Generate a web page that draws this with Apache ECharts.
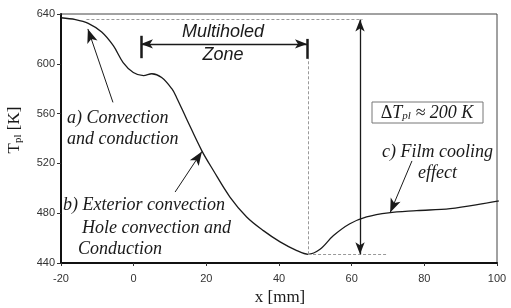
<!DOCTYPE html>
<html>
<head>
<meta charset="utf-8">
<script src="https://cdn.jsdelivr.net/npm/echarts@6/dist/echarts.min.js"></script>
<style>
  html, body { margin: 0; padding: 0; background: #fff; }
  #chart { width: 511px; height: 308px; }
</style>
</head>
<body>
<div id="chart"></div>
<script>
// plate temperature along x
const xMm = [-20, -16, -12.5, -8.8, -5.6, -2.9, -0.1, 2.7, 5, 7.7, 10.5, 11.8, 14.6, 18.7, 21.9, 26.5, 31.1, 35.7, 40.3, 44.9, 48, 51.3, 55, 59.5, 64.1, 70.1, 77.9, 87.1, 96.2, 103.9];
const tPl = [637, 635.5, 632.5, 625.5, 614.5, 601, 593, 590.5, 592, 589, 580, 573, 555.5, 530.5, 514.5, 493, 477, 466, 457, 450, 447, 451, 462, 471.5, 477, 480.3, 482, 483.7, 487.7, 491.7];

const xTicks = [-20, 0, 20, 40, 60, 80, 100];
const yTicks = [440, 480, 520, 560, 600, 640];

// guide lines and arrows, in data units
const dashedGuides = [
  [[-13, 635.5], [63, 635.5]],
  [[48, 447], [70, 447]],
  [[48, 447], [48, 604]]
];
const deltaArrow = [[62.3, 635.5], [62.3, 447]];
const zoneArrow = [[2, 616], [47.7, 616]];
const zoneBars = [
  [[2, 622.5], [2, 604.5]],
  [[47.7, 620], [47.7, 604]]
];
const pointerArrows = [
  [[-5.7, 569], [-12.6, 628]],
  [[11.4, 497], [18.8, 529.6]],
  [[76.6, 522], [70.6, 480.5]]
];

const serif = '"Liberation Serif", "DejaVu Serif", serif';
const sans = '"Liberation Sans", Arial, sans-serif';
const ink = '#1a1a1a';

const chart = echarts.init(document.getElementById('chart'));

function seg(p, q, startSym, endSym, size, style) {
  return [
    { coord: p, symbol: startSym, symbolSize: size },
    { coord: q, symbol: endSym, symbolSize: size, lineStyle: style }
  ];
}

const markData = [];
dashedGuides.forEach(d => markData.push(seg(d[0], d[1], 'none', 'none', 0, { color: '#999', width: 1, type: [3, 2] })));
markData.push(seg(deltaArrow[0], deltaArrow[1], 'arrow', 'arrow', [7, 12], { color: ink, width: 1.3, type: 'solid' }));
markData.push(seg(zoneArrow[0], zoneArrow[1], 'arrow', 'arrow', [7, 12], { color: ink, width: 1.3, type: 'solid' }));
zoneBars.forEach(d => markData.push(seg(d[0], d[1], 'none', 'none', 0, { color: ink, width: 2.5, type: 'solid' })));
pointerArrows.forEach(d => markData.push(seg(d[0], d[1], 'none', 'arrow', [8, 14], { color: ink, width: 1, type: 'solid' })));

function txt(text, x, y, font, align) {
  return {
    type: 'text',
    style: {
      text: text, x: x, y: y, font: font, fill: ink,
      textAlign: align || 'left', textVerticalAlign: 'middle'
    }
  };
}

const italicSerif = 'italic 18px ' + serif;
const italicSans = 'italic 18px ' + sans;

chart.setOption({
  animation: false,
  grid: {
    left: 61, right: 14, top: 14, bottom: 45,
    show: true, borderColor: '#444', borderWidth: 1
  },
  xAxis: {
    type: 'value',
    min: -20, max: 100, interval: 20,
    axisLine: { onZero: false, lineStyle: { color: '#111', width: 2 } },
    axisTick: { show: true, length: 3, lineStyle: { color: '#333' } },
    axisLabel: {
      margin: 10, color: '#333', fontSize: 11, fontFamily: sans,
      formatter: v => (xTicks.indexOf(v) >= 0 ? String(v) : '')
    },
    splitLine: { show: false }
  },
  yAxis: {
    type: 'value',
    min: 440, max: 640, interval: 40,
    axisLine: { show: true, onZero: false, lineStyle: { color: '#111', width: 2 } },
    axisTick: { show: true, length: 4, lineStyle: { color: '#333' } },
    axisLabel: {
      margin: 6, color: '#333', fontSize: 11, fontFamily: sans,
      formatter: v => (yTicks.indexOf(v) >= 0 ? String(v) : '')
    },
    splitLine: { show: false }
  },
  series: [{
    type: 'line',
    data: xMm.map((x, i) => [x, tPl[i]]),
    smooth: 0.35,
    showSymbol: false,
    clip: false,
    lineStyle: { color: ink, width: 1.3 },
    markLine: {
      silent: true,
      animation: false,
      label: { show: false },
      emphasis: { disabled: true },
      data: markData
    }
  }],
  graphic: [
    txt('Multiholed', 223, 32, italicSans, 'center'),
    txt('Zone', 223, 55, italicSans, 'center'),
    txt('a) Convection', 67, 118, italicSerif),
    txt('and conduction', 67, 139, italicSerif),
    txt('b) Exterior convection', 63, 205, italicSerif),
    txt('Hole convection and', 82, 228, italicSerif),
    txt('Conduction', 78, 249, italicSerif),
    txt('c) Film cooling', 382, 152, italicSerif),
    txt('effect', 418, 173, italicSerif),
    {
      type: 'rect',
      shape: { x: 372, y: 102, width: 111, height: 21 },
      style: { fill: '#fff', stroke: '#777', lineWidth: 1 }
    },
    {
      type: 'text',
      style: {
        text: '{d|Δ}{t|T}{s|pl}{t| ≈ 200 K}',
        x: 427, y: 113, textAlign: 'center', textVerticalAlign: 'middle',
        fill: ink,
        rich: {
          d: { fontFamily: serif, fontSize: 18, fill: ink },
          t: { fontFamily: serif, fontStyle: 'italic', fontSize: 18, fill: ink },
          s: { fontFamily: serif, fontStyle: 'italic', fontSize: 11, fill: ink, verticalAlign: 'bottom', padding: [6, 0, 0, 0] }
        }
      }
    },
    {
      type: 'text',
      x: 15, y: 130, rotation: Math.PI / 2,
      style: {
        text: '{t|T}{s|pl}{t| [K]}',
        x: 0, y: 0, textAlign: 'center', textVerticalAlign: 'middle',
        fill: ink,
        rich: {
          t: { fontFamily: serif, fontSize: 17, fill: ink },
          s: { fontFamily: serif, fontSize: 11, fill: ink, verticalAlign: 'bottom', padding: [6, 0, 0, 0] }
        }
      }
    },
    txt('x [mm]', 280, 298, '17px ' + serif, 'center')
  ]
});
</script>
</body>
</html>
